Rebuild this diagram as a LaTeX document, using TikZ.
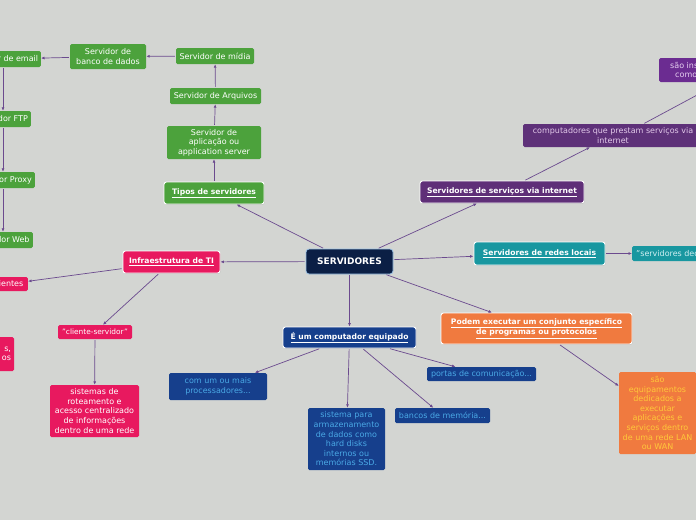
\documentclass[tikz,border=0pt]{standalone}
\usepackage{fontspec}
\setmainfont{DejaVu Sans}
\usetikzlibrary{arrows.meta,shadows}
\definecolor{bg}{HTML}{D3D5D2}
\definecolor{gr}{HTML}{4CA23C}
\definecolor{navy}{HTML}{0B1F45}
\definecolor{navyb}{HTML}{9CC3E6}
\definecolor{pk}{HTML}{E8195F}
\definecolor{bl}{HTML}{163F8C}
\definecolor{bltx}{HTML}{4AA9E6}
\definecolor{pu}{HTML}{5F2F78}
\definecolor{pusub}{HTML}{5E3179}
\definecolor{putx}{HTML}{E2C9EA}
\definecolor{pu2}{HTML}{6B2C91}
\definecolor{pu2tx}{HTML}{E6CFF0}
\definecolor{tl}{HTML}{1897A0}
\definecolor{tltx}{HTML}{CFEFF2}
\definecolor{og}{HTML}{F07A3F}
\definecolor{ogtx}{HTML}{FFC83A}
\definecolor{linec}{HTML}{6B4A8E}
\begin{document}
\begin{tikzpicture}[x=1pt,y=-1pt,
  mainbox/.style={rectangle, rounded corners=2.5pt, draw=white, line width=0.9pt, text=white,
    font=\bfseries\fontsize{7.6}{10.5}\selectfont, align=center, inner sep=1pt,
    drop shadow={shadow xshift=0.6pt, shadow yshift=-0.8pt, opacity=0.3}},
  subbox/.style={rectangle, rounded corners=1.5pt, text=white,
    font=\fontsize{8}{9.6}\selectfont, align=center, inner sep=1pt},
  conn/.style={draw=linec, line width=0.7pt, shorten <=1pt, -{Latex[length=3.5pt,width=3pt]}},
  sz/.style 2 args={minimum width=#1, minimum height=#2}
]
\useasboundingbox (0,0) rectangle (696,520);
\fill[bg] (0,0) rectangle (696,520);
\clip (0,0) rectangle (696,520);

% centre
\node[rectangle, rounded corners=3pt, draw=navyb, line width=0.8pt, fill=navy, text=white,
  font=\bfseries\fontsize{9}{10}\selectfont, sz={87}{25}] (serv) at (349.5,261.5) {SERVIDORES};

% green branch
\node[mainbox, fill=gr, sz={100}{22}] (tipos) at (214,193) {\underline{Tipos de servidores}};
\node[subbox, fill=gr, sz={94}{33}] (aplic) at (214,142.5) {Servidor de\\aplicação ou\\application server};
\node[subbox, fill=gr, sz={91}{16}] (arq) at (215.5,96) {Servidor de Arquivos};
\node[subbox, fill=gr, sz={78}{16}] (midia) at (215,56) {Servidor de mídia};
\node[subbox, fill=gr, sz={76}{25}] (banco) at (108,56.5) {Servidor de\\banco de dados};
\node[subbox, fill=gr, sz={76}{16}, anchor=east] (email) at (41,59) {Servidor de email};
\node[subbox, fill=gr, sz={56}{16}, anchor=east] (ftp) at (31,119) {Servidor FTP};
\node[subbox, fill=gr, sz={64}{16}, anchor=east] (proxy) at (35,180) {Servidor Proxy};
\node[subbox, fill=gr, sz={60}{16}, anchor=east] (web) at (33,240) {Servidor Web};
\coordinate (lx) at (3,0);

% pink branch
\node[mainbox, fill=pk, sz={97}{22}] (infra) at (171.5,262) {\underline{Infraestrutura de TI}};
\node[subbox, fill=pk, sz={40}{14}, anchor=east] (cli) at (28,284) {clientes};
\node[subbox, fill=pk, sz={54}{34}, text width=48, align=right] (pkl) at (-13,354) {s,\\os\\ };
\node[subbox, fill=pk, sz={74}{14}, font=\fontsize{7.4}{8}\selectfont] (cs) at (95,332) {"cliente-servidor"};
\node[subbox, fill=pk, sz={89}{52}] (sist) at (94.5,411) {sistemas de\\roteamento e\\acesso centralizado\\de informações\\dentro de uma rede};

% blue branch
\node[mainbox, fill=bl, sz={133}{21}] (eum) at (349.5,337.5) {\underline{É um computador equipado}};
\node[subbox, fill=bl, text=bltx, sz={98}{27}] (com) at (218,386.5) {com um ou mais\\processadores...};
\node[subbox, fill=bl, text=bltx, sz={77}{62}] (sistema) at (346.5,439) {sistema para\\armazenamento\\de dados como\\hard disks\\internos ou\\memórias SSD.};
\node[subbox, fill=bl, text=bltx, sz={95}{15}] (bancos) at (442.5,415.5) {bancos de memória...};
\node[subbox, fill=bl, text=bltx, sz={109}{14}] (portas) at (481.5,374) {portas de comunicação...};

% purple branch
\node[mainbox, fill=pu, sz={164}{22}] (svc) at (502,192) {\underline{Servidores de serviços via internet}};
\node[subbox, fill=pusub, text=putx, sz={180}{23}] (comp) at (613,135.5) {computadores que prestam serviços via\\internet};
\node[subbox, fill=pu2, text=pu2tx, sz={0}{24}, anchor=west, align=left, inner xsep=11pt] (sao) at (659,70) {são instalados\\\hspace*{5pt}como};

% teal branch
\node[mainbox, fill=tl, sz={131}{23}] (redes) at (539.5,253.5) {\underline{Servidores de redes locais}};
\node[subbox, fill=tl, text=tltx, sz={0}{15}, anchor=west, inner xsep=4pt] (sd) at (632,253.5) {"servidores dedicados"};

% orange branch
\node[mainbox, fill=og, sz={191}{31}] (podem) at (536.5,328.5) {\underline{Podem executar um conjunto específico}\\\underline{de programas ou protocolos}};
\node[subbox, fill=og, text=ogtx, sz={77}{82}] (saoeq) at (657.5,413) {são\\equipamentos\\dedicados a\\executar\\aplicações e\\serviços dentro\\de uma rede LAN\\ou WAN};

% connectors
\draw[conn] (serv) -- (tipos);
\draw[conn] (tipos) -- (aplic);
\draw[conn] (aplic) -- (arq);
\draw[conn] (arq) -- (midia);
\draw[conn] (midia) -- (banco);
\draw[conn] (banco) -- (email);
\draw[conn] (email.south -| lx) -- (ftp.north -| lx);
\draw[conn] (ftp.south -| lx) -- (proxy.north -| lx);
\draw[conn] (proxy.south -| lx) -- (web.north -| lx);

\draw[conn] (serv) -- (infra);
\draw[conn] (infra) -- (cli);
\draw[conn] (infra) -- (cs);
\draw[conn] (cs) -- (sist);

\draw[conn] (serv) -- (eum);
\draw[conn] (eum) -- (com);
\draw[conn] (eum) -- (sistema);
\draw[conn] (eum) -- (bancos);
\draw[conn] (eum) -- (portas);

\draw[conn] (serv) -- (svc);
\draw[conn] (svc) -- (comp);
\draw[conn] (comp.21.6) -- (sao.south -| 721,0);

\draw[conn] (serv) -- (redes);
\draw[conn] (redes) -- (sd);

\draw[conn] (serv) -- (podem);
\draw[conn] (podem) -- (saoeq);
\end{tikzpicture}
\end{document}
